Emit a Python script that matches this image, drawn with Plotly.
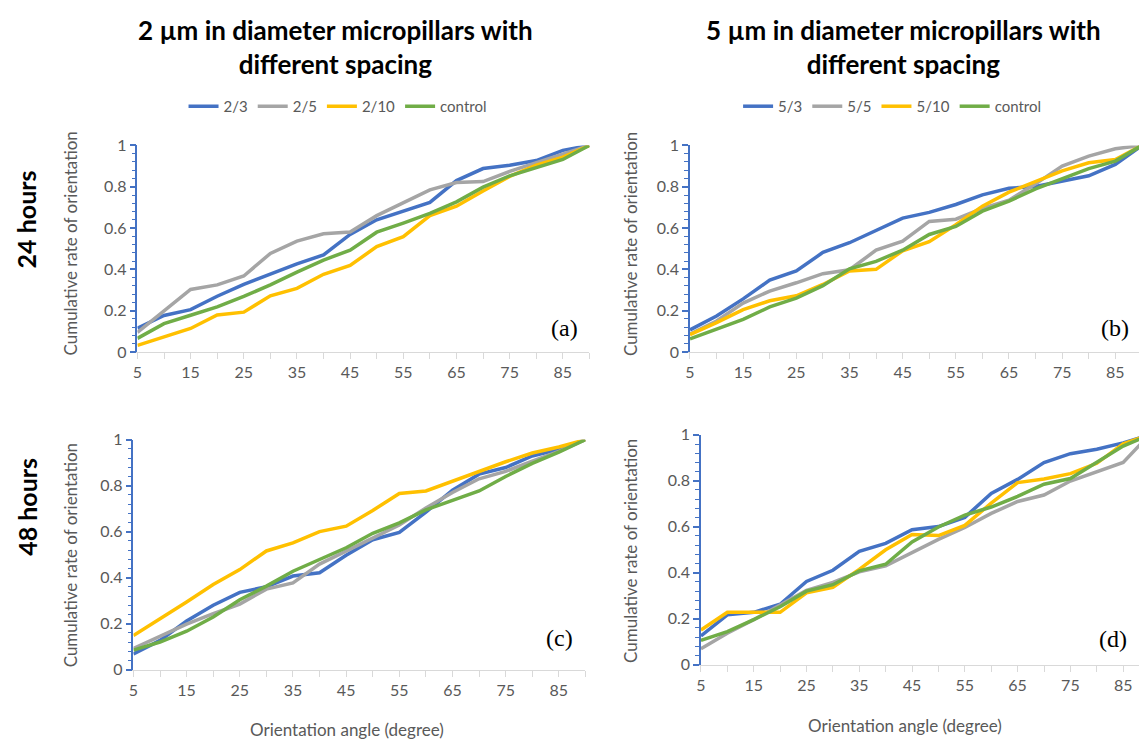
import plotly.graph_objects as go

angles = [5, 10, 15, 20, 25, 30, 35, 40, 45, 50, 55, 60, 65, 70, 75, 80, 85, 90]
xtick_labels = [5, 15, 25, 35, 45, 55, 65, 75, 85]
ytick_vals = [0, 0.2, 0.4, 0.6, 0.8, 1]
ytick_text = ["0", "0.2", "0.4", "0.6", "0.8", "1"]

names_2um = ["2/3", "2/5", "2/10", "control"]
names_5um = ["5/3", "5/5", "5/10", "control"]
colors = ["#4472C4", "#A5A5A5", "#FFC000", "#70AD47"]

# (a) 2 um, 24 hours
a_2_3 = [0.115, 0.177, 0.205, 0.27, 0.327, 0.376, 0.427, 0.47, 0.569, 0.64, 0.682, 0.724, 0.83, 0.888, 0.904, 0.927, 0.976, 1.0]
a_2_5 = [0.095, 0.197, 0.303, 0.325, 0.368, 0.477, 0.537, 0.572, 0.581, 0.66, 0.724, 0.785, 0.82, 0.825, 0.874, 0.916, 0.956, 1.0]
a_2_10 = [0.032, 0.074, 0.114, 0.179, 0.193, 0.272, 0.308, 0.376, 0.419, 0.51, 0.558, 0.66, 0.706, 0.779, 0.85, 0.905, 0.943, 1.0]
a_ctrl = [0.066, 0.137, 0.178, 0.218, 0.269, 0.325, 0.387, 0.445, 0.493, 0.58, 0.624, 0.671, 0.727, 0.798, 0.853, 0.893, 0.932, 1.0]

# (b) 5 um, 24 hours
b_5_3 = [0.107, 0.174, 0.257, 0.348, 0.392, 0.482, 0.529, 0.588, 0.648, 0.676, 0.714, 0.761, 0.793, 0.801, 0.825, 0.853, 0.908, 1.0]
b_5_5 = [0.087, 0.15, 0.237, 0.295, 0.335, 0.379, 0.398, 0.493, 0.537, 0.632, 0.643, 0.695, 0.735, 0.814, 0.9, 0.948, 0.984, 1.0]
b_5_10 = [0.084, 0.142, 0.205, 0.248, 0.272, 0.327, 0.392, 0.4, 0.49, 0.534, 0.616, 0.706, 0.774, 0.826, 0.877, 0.916, 0.932, 1.0]
b_ctrl = [0.063, 0.111, 0.158, 0.218, 0.261, 0.321, 0.403, 0.439, 0.493, 0.569, 0.608, 0.682, 0.73, 0.79, 0.837, 0.888, 0.924, 1.0]

# (c) 2 um, 48 hours
c_2_3 = [0.068, 0.127, 0.212, 0.28, 0.336, 0.36, 0.407, 0.421, 0.497, 0.565, 0.597, 0.685, 0.78, 0.85, 0.879, 0.929, 0.958, 1.0]
c_2_5 = [0.092, 0.144, 0.198, 0.243, 0.285, 0.35, 0.377, 0.459, 0.516, 0.576, 0.629, 0.703, 0.77, 0.83, 0.862, 0.907, 0.949, 1.0]
c_2_10 = [0.148, 0.219, 0.294, 0.37, 0.435, 0.516, 0.551, 0.6, 0.624, 0.692, 0.766, 0.777, 0.819, 0.859, 0.904, 0.942, 0.968, 1.0]
c_ctrl = [0.085, 0.12, 0.167, 0.229, 0.304, 0.363, 0.428, 0.477, 0.53, 0.593, 0.638, 0.695, 0.734, 0.777, 0.84, 0.897, 0.946, 1.0]

# (d) 5 um, 48 hours
d_5_3 = [0.125, 0.217, 0.228, 0.263, 0.362, 0.411, 0.493, 0.528, 0.587, 0.601, 0.641, 0.745, 0.806, 0.879, 0.918, 0.937, 0.965, 1.0]
d_5_5 = [0.07, 0.137, 0.196, 0.261, 0.323, 0.358, 0.404, 0.43, 0.489, 0.545, 0.597, 0.658, 0.71, 0.738, 0.799, 0.841, 0.88, 1.0]
d_5_10 = [0.151, 0.228, 0.228, 0.228, 0.313, 0.337, 0.415, 0.5, 0.566, 0.562, 0.606, 0.703, 0.792, 0.808, 0.831, 0.876, 0.961, 1.0]
d_ctrl = [0.106, 0.144, 0.196, 0.252, 0.32, 0.348, 0.408, 0.437, 0.534, 0.599, 0.651, 0.686, 0.732, 0.785, 0.81, 0.879, 0.951, 1.0]

W, H = 1139, 740
panels = [
    ([a_2_3, a_2_5, a_2_10, a_ctrl], names_2um, "x", "y", "legend", (133, 587), (139, 351), 90),
    ([b_5_3, b_5_5, b_5_10, b_ctrl], names_5um, "x2", "y2", "legend2", (688, 1139), (139, 351), 89.45),
    ([c_2_3, c_2_5, c_2_10, c_ctrl], names_2um, "x3", "y3", None, (129, 583), (441, 677), 90),
    ([d_5_3, d_5_5, d_5_10, d_ctrl], names_5um, "x4", "y4", None, (699, 1139), (436, 672), 88.0),
]

fig = go.Figure()
layout = dict(
    width=W, height=H, margin=dict(l=0, r=0, t=0, b=0),
    paper_bgcolor="white", plot_bgcolor="white",
    font=dict(family="Lato, Open Sans, sans-serif", color="#595959", size=16),
    showlegend=True,
)

for series, names, xa, ya, leg, (x0, x1), (ytop, ybot), xmax in panels:
    for vals, nm, col in zip(series, names, colors):
        fig.add_trace(go.Scatter(
            x=angles, y=vals, mode="lines", name=nm,
            line=dict(color=col, width=3.5),
            xaxis=xa, yaxis=ya,
            legend=leg if leg else "legend",
            showlegend=leg is not None,
        ))
    xkey = "xaxis" + xa[1:]
    ykey = "yaxis" + ya[1:]
    layout[xkey] = dict(
        domain=[x0 / W, x1 / W], anchor=ya, range=[5, xmax],
        tickvals=xtick_labels, ticks="outside", ticklen=6, tickcolor="#D9D9D9", tickwidth=1,
        minor=dict(tick0=5, dtick=5, ticks="outside", ticklen=6, tickcolor="#D9D9D9", tickwidth=1),
        showline=True, linecolor="#D9D9D9", linewidth=1,
        showgrid=False, zeroline=False,
        tickfont=dict(size=16, color="#595959"),
    )
    layout[ykey] = dict(
        domain=[1 - ybot / H, 1 - ytop / H], anchor=xa, range=[0, 1],
        tickvals=ytick_vals, ticktext=ytick_text,
        ticks="outside", ticklen=6, tickcolor="#4472C4", tickwidth=1.5,
        minor=dict(dtick=0.04, tick0=0, ticks="outside", ticklen=4, tickcolor="#4472C4", tickwidth=1),
        showline=True, linecolor="#4472C4", linewidth=1.5,
        showgrid=False, zeroline=False,
        tickfont=dict(size=16, color="#595959"),
    )

legend_common = dict(
    orientation="h", yanchor="middle", xanchor="center",
    font=dict(size=15, color="#595959"), bgcolor="rgba(0,0,0,0)",
    itemwidth=30, tracegroupgap=0, traceorder="normal",
)
layout["legend"] = dict(legend_common, x=334 / W, y=1 - 99 / H)
layout["legend2"] = dict(legend_common, x=891 / W, y=1 - 99 / H)

annotations = []


def ann(text, xc, yc, font, angle=0):
    annotations.append(dict(text=text, x=xc / W, y=1 - yc / H, xref="paper", yref="paper",
                            xanchor="center", yanchor="middle", showarrow=False,
                            textangle=angle, font=font, align="center"))


title_font = dict(family="Lato, sans-serif", size=26, color="black")
ann("<b>2 µm in diameter micropillars with<br>different spacing</b>", 332, 38, title_font)
ann("<b>5 µm in diameter micropillars with<br>different spacing</b>", 902, 38, title_font)
row_font = dict(family="Lato, sans-serif", size=25, color="black")
ann("<b>24 hours</b>", 22, 215, row_font, -90)
ann("<b>48 hours</b>", 22, 510, row_font, -90)
ytitle_font = dict(family="Lato, sans-serif", size=17, color="#595959")
for xc, yc in [(66, 240), (629, 240), (66, 560), (629, 555)]:
    ann("Cumulative rate of orientation", xc, yc, ytitle_font, -90)
for xc, yc in [(344, 738), (904, 734)]:
    ann("Orientation angle (degree)", xc, yc, ytitle_font)
lab_font = dict(family="Liberation Serif, DejaVu Serif, serif", size=24, color="black")
for txt, xc, yc in [("(a)", 562, 326), ("(b)", 1115, 326), ("(c)", 557, 645), ("(d)", 1113, 646)]:
    ann(txt, xc, yc, lab_font)
layout["annotations"] = annotations

fig.update_layout(**layout)
fig.write_html("out.html")
